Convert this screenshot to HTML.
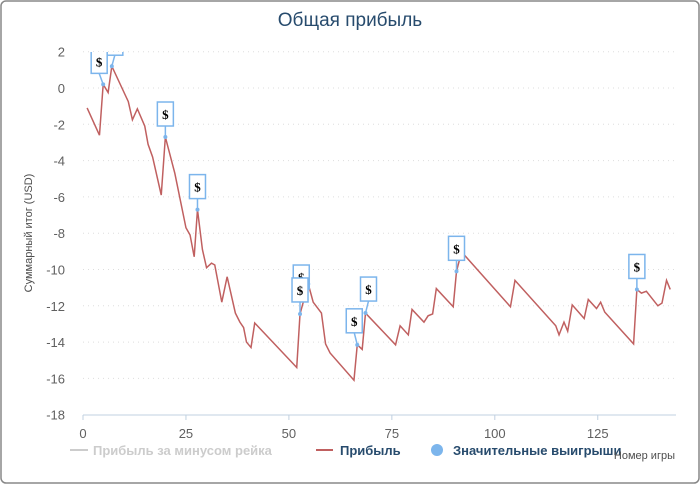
<!DOCTYPE html>
<html><head><meta charset="utf-8"><style>
body{margin:0;background:#fff;}
svg{display:block;font-family:"Liberation Sans",sans-serif;}
</style></head><body>
<svg id="chart" width="700" height="485" viewBox="0 0 700 485">
<rect x="1" y="1" width="698" height="482" rx="5" fill="#fff" stroke="#888" stroke-width="1.5"/>
<text x="350" y="26" text-anchor="middle" font-size="19" fill="#274b6d">Общая прибыль</text>
<g id="grid"></g>
<g id="yticks"></g>
<g id="xticks"></g>
<line x1="83" y1="415" x2="676" y2="415" stroke="#c0d0e0" stroke-width="1"/>
<text transform="translate(32,233) rotate(-90)" text-anchor="middle" font-size="11" fill="#4d4d4d">Суммарный итог (USD)</text>
<defs><clipPath id="pc"><rect x="83" y="52" width="593" height="364"/></clipPath></defs>
<g clip-path="url(#pc)" id="plot"></g>
<g>
<g>
<line x1="70" y1="450" x2="88" y2="450" stroke="#ccc" stroke-width="2"/>
<text x="93" y="455" font-size="13" font-weight="bold" fill="#ccc">Прибыль за минусом рейка</text></g>
<g>
<line x1="316" y1="450" x2="333" y2="450" stroke="#c06060" stroke-width="2"/>
<text x="340" y="455" font-size="13" font-weight="bold" fill="#274b6d">Прибыль</text></g>
<g>
<circle cx="437" cy="450" r="6" fill="#7cb5ec"/>
<text x="453" y="455" font-size="13" font-weight="bold" fill="#274b6d">Значительные выигрыши</text></g>
</g>
<text x="675" y="459" text-anchor="end" font-size="11" fill="#4d4d4d">Номер игры</text>
</svg>
<script>
const gameNums=[1,4,4.9,6.1,7,11,12,13.2,15,15.8,16.9,19,20,22.3,25,26,27,27.8,29,30,31.2,32,33.7,35,37,38.1,39,39.7,40.8,41.7,51.9,52.7,54.7,55.9,57.9,58.9,60,65.8,66.6,67.8,68.6,75.9,77,79,79.9,82.8,83.8,84.9,85.8,89.9,90.7,91.5,92.6,103.8,104.9,114.8,115.6,116.8,117.7,118.8,121.7,122.7,124.7,125.7,126.7,133.7,134.5,135.6,136.8,139.6,140.6,141.7,142.6];
const profit=[-1.1,-2.6,0.2,-0.25,1.2,-0.75,-1.75,-1.15,-2.1,-3.1,-3.8,-5.9,-2.7,-4.7,-7.7,-8.1,-9.3,-6.7,-8.9,-9.9,-9.65,-9.75,-11.8,-10.4,-12.4,-12.9,-13.2,-14,-14.3,-12.95,-15.4,-12.45,-10.8,-11.8,-12.4,-14.1,-14.6,-16.1,-14.15,-14.4,-12.4,-14.15,-13.1,-13.6,-12.2,-12.9,-12.55,-12.45,-11.05,-12.05,-10.1,-9.4,-9.2,-12.05,-10.6,-13.1,-13.6,-12.9,-13.4,-11.95,-12.7,-11.65,-12.15,-11.8,-12.35,-14.1,-11.1,-11.3,-11.2,-12,-11.85,-10.6,-11.1];
const winX=[4.9,7,20,27.8,52.7,54.7,66.6,68.6,90.7,134.5];
const winY=[0.2,1.2,-2.7,-6.7,-12.45,-10.8,-14.15,-12.4,-10.1,-11.1];
const yTicks=[2,0,-2,-4,-6,-8,-10,-12,-14,-16,-18];
const xTicks=[0,25,50,75,100,125];
const flagDx=[-4,3,0,0,0,-7,-3,3,0,0];
const flagDy=[-11,-11,-11,-11,-12,5,-12,-12,-11,-11];
const X=v=>83+v*(593/144);
const Y=v=>88-v*18.15;
const NS='http://www.w3.org/2000/svg';
function mk(t,a,p){const e=document.createElementNS(NS,t);for(const k in a)e.setAttribute(k,a[k]);p.appendChild(e);return e;}
const grid=document.getElementById('grid'),yt=document.getElementById('yticks'),xt=document.getElementById('xticks'),plot=document.getElementById('plot');
yTicks.forEach(v=>{
 if(v>-18){const l=mk('line',{x1:83,x2:676,y1:Y(v),y2:Y(v),stroke:'#ddd','stroke-dasharray':'1,4'},grid);
 
 }
 const t=mk('text',{x:65,y:Y(v)+5,'text-anchor':'end','font-size':13,fill:'#606060'},yt);t.textContent=v;
 
 
});
xTicks.forEach(v=>{
 const l=mk('line',{x1:X(v),x2:X(v),y1:415,y2:420,stroke:'#c0d0e0'},xt);
 
 
 const t=mk('text',{x:X(v),y:438,'text-anchor':'middle','font-size':13,fill:'#606060'},xt);t.textContent=v;
 
 
});
const pl=mk('polyline',{points:gameNums.map((g,i)=>X(g)+','+Y(profit[i])).join(' '),fill:'none',stroke:'#c06060','stroke-width':1.5},plot);


for(let i=winX.length-1;i>=0;i--){
 const px=X(winX[i]),py=Y(winY[i]);const bx=px+flagDx[i],by=py+flagDy[i];
 const grp=mk('g',{},plot);
 
 
 mk('line',{x1:px,y1:py,x2:bx,y2:by,stroke:'#7cb5ec','stroke-width':1.5},grp);
 mk('circle',{cx:px,cy:py,r:2,fill:'#7cb5ec'},grp);
 mk('rect',{x:bx-8,y:by-24,width:16,height:24,fill:'#fff',stroke:'#7cb5ec','stroke-width':1.5},grp);
 const t=mk('text',{x:bx,y:by-7,'text-anchor':'middle','font-size':13,'font-weight':'bold',fill:'#000','font-family':'Liberation Serif, serif'},grp);t.textContent='$';
}
</script>
</body></html>
